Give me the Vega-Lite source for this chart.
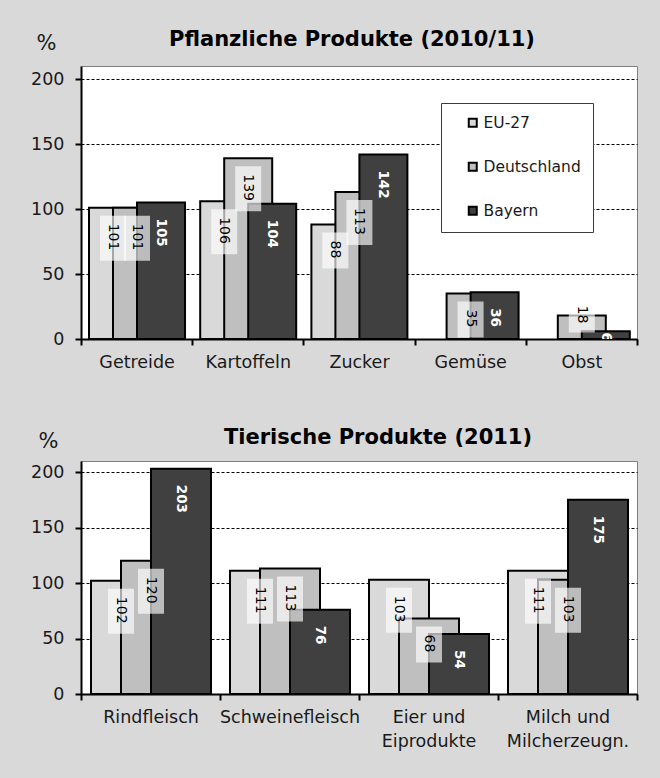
{
  "$schema": "https://vega.github.io/schema/vega-lite/v6.json",
  "background": "#d9d9d9",
  "padding": {"left": 30, "top": 28, "right": 23, "bottom": 38},
  "spacing": 55,
  "resolve": {"scale": {"color": "independent", "xOffset": "independent", "x": "independent", "y": "independent"}},
  "config": {
    "font": "DejaVu Sans",
    "view": {"stroke": "#7f7f7f", "strokeWidth": 1, "fill": "#ffffff"},
    "axis": {"labelFont": "DejaVu Sans", "labelFontSize": 17.5, "labelColor": "#1a1a1a", "domainColor": "#000000", "domainWidth": 2, "tickColor": "#000000", "tickWidth": 2, "tickSize": 6, "titleFont": "DejaVu Sans", "titleFontSize": 21, "titleFontWeight": "normal", "titleColor": "#1a1a1a"},
    "axisX": {"grid": false, "labelAngle": 0, "tickBand": "extent", "labelPadding": 8},
    "axisY": {"grid": true, "gridColor": "#000000", "gridDash": [3, 2], "gridWidth": 1, "labelPadding": 11},
    "title": {"font": "DejaVu Sans", "fontSize": 21, "fontWeight": "bold", "color": "#000000", "anchor": "middle"}
  },
  "vconcat": [
    {
      "width": 556,
      "height": 273,
      "title": {"text": "Pflanzliche Produkte (2010/11)", "dx": -7, "offset": -18},
      "data": {"values": [
        {"cat": "Getreide", "series": "EU-27", "value": 101},
        {"cat": "Kartoffeln", "series": "EU-27", "value": 106},
        {"cat": "Zucker", "series": "EU-27", "value": 88},
        {"cat": "Getreide", "series": "Deutschland", "value": 101},
        {"cat": "Kartoffeln", "series": "Deutschland", "value": 139},
        {"cat": "Zucker", "series": "Deutschland", "value": 113},
        {"cat": "Gemüse", "series": "Deutschland", "value": 35},
        {"cat": "Obst", "series": "Deutschland", "value": 18},
        {"cat": "Getreide", "series": "Bayern", "value": 105},
        {"cat": "Kartoffeln", "series": "Bayern", "value": 104},
        {"cat": "Zucker", "series": "Bayern", "value": 142},
        {"cat": "Gemüse", "series": "Bayern", "value": 36},
        {"cat": "Obst", "series": "Bayern", "value": 6}
      ]},
      "encoding": {
        "x": {"field": "cat", "type": "nominal", "sort": ["Getreide", "Kartoffeln", "Zucker", "Gemüse", "Obst"], "scale": {"paddingInner": 0, "paddingOuter": 0}, "axis": {"title": null}},
        "xOffset": {"field": "series", "type": "nominal", "sort": ["EU-27", "Deutschland", "Bayern"], "scale": {"range": [20, 92], "paddingInner": 0, "paddingOuter": 0}},
        "y": {"field": "value", "type": "quantitative", "scale": {"domain": [0, 210], "nice": false}, "axis": {"values": [0, 50, 100, 150, 200], "title": "%", "titleAngle": 0, "titleAlign": "left", "titleBaseline": "alphabetic", "titleX": -45, "titleY": -17}}
      },
      "layer": [
        {
          "mark": {"type": "bar", "width": 48, "stroke": "#000000", "strokeWidth": 2},
          "encoding": {
            "color": {"field": "series", "type": "nominal", "sort": ["EU-27", "Deutschland", "Bayern"],
              "scale": {"domain": ["EU-27", "Deutschland", "Bayern"], "range": ["#d9d9d9", "#bfbfbf", "#404040"]},
              "legend": {"title": null, "orient": "none", "legendX": 360, "legendY": 37, "direction": "vertical", "fillColor": "#ffffff", "strokeColor": "#3a3a3a", "padding": 12, "symbolOffset": 12, "rowPadding": 26, "labelFont": "DejaVu Sans", "labelFontSize": 15.5, "labelColor": "#1a1a1a", "symbolType": "square", "symbolSize": 64, "symbolStrokeColor": "#000000", "symbolStrokeWidth": 2, "labelOffset": 3}}
          }
        },
        {
          "transform": [{"filter": "datum.series != 'Bayern'"}],
          "mark": {"type": "point", "filled": true, "size": 4, "color": "#ffffff", "opacity": 0.65, "strokeWidth": 0},
          "encoding": {"shape": {"condition": [
            {"test": "datum.value >= 100", "value": "M-13,8L13,8L13,53L-13,53Z"},
            {"test": "datum.value >= 30", "value": "M-13,8L13,8L13,44L-13,44Z"}
          ], "value": "M-13,-19L13,-19L13,17L-13,17Z"}}
        },
        {
          "transform": [{"filter": "datum.series != 'Bayern' && datum.value >= 30"}],
          "mark": {"type": "text", "angle": 90, "align": "left", "baseline": "middle", "yOffset": 16, "font": "DejaVu Sans", "fontSize": 14, "color": "#000000"},
          "encoding": {"text": {"field": "value", "type": "quantitative"}}
        },
        {
          "transform": [{"filter": "datum.series != 'Bayern' && datum.value < 30"}],
          "mark": {"type": "text", "angle": 90, "align": "center", "baseline": "middle", "yOffset": -1, "font": "DejaVu Sans", "fontSize": 14, "color": "#000000"},
          "encoding": {"text": {"field": "value", "type": "quantitative"}}
        },
        {
          "transform": [{"filter": "datum.series == 'Bayern' && datum.value >= 30"}],
          "mark": {"type": "text", "angle": 90, "align": "left", "baseline": "middle", "yOffset": 16, "font": "DejaVu Sans", "fontSize": 13.5, "fontWeight": "bold", "color": "#ffffff"},
          "encoding": {"text": {"field": "value", "type": "quantitative"}}
        },
        {
          "transform": [{"filter": "datum.series == 'Bayern' && datum.value < 30"}],
          "mark": {"type": "text", "angle": 90, "align": "center", "baseline": "middle", "yOffset": 6, "clip": true, "font": "DejaVu Sans", "fontSize": 13.5, "fontWeight": "bold", "color": "#ffffff"},
          "encoding": {"text": {"field": "value", "type": "quantitative"}}
        }
      ]
    },
    {
      "width": 556,
      "height": 233,
      "title": {"text": "Tierische Produkte (2011)", "dx": 19, "offset": -18},
      "data": {"values": [
        {"cat": "Rindfleisch", "series": "EU-27", "value": 102},
        {"cat": "Schweinefleisch", "series": "EU-27", "value": 111},
        {"cat": "Eier und Eiprodukte", "series": "EU-27", "value": 103},
        {"cat": "Milch und Milcherzeugn.", "series": "EU-27", "value": 111},
        {"cat": "Rindfleisch", "series": "Deutschland", "value": 120},
        {"cat": "Schweinefleisch", "series": "Deutschland", "value": 113},
        {"cat": "Eier und Eiprodukte", "series": "Deutschland", "value": 68},
        {"cat": "Milch und Milcherzeugn.", "series": "Deutschland", "value": 103},
        {"cat": "Rindfleisch", "series": "Bayern", "value": 203},
        {"cat": "Schweinefleisch", "series": "Bayern", "value": 76},
        {"cat": "Eier und Eiprodukte", "series": "Bayern", "value": 54},
        {"cat": "Milch und Milcherzeugn.", "series": "Bayern", "value": 175}
      ]},
      "encoding": {
        "x": {"field": "cat", "type": "nominal", "sort": ["Rindfleisch", "Schweinefleisch", "Eier und Eiprodukte", "Milch und Milcherzeugn."], "scale": {"paddingInner": 0, "paddingOuter": 0}, "axis": {"title": null, "labelExpr": "split(replace(datum.label, ' und ', ' und|'), '|')", "labelLineHeight": 24}},
        "xOffset": {"field": "series", "type": "nominal", "sort": ["EU-27", "Deutschland", "Bayern"], "scale": {"range": [25, 115], "paddingInner": 0, "paddingOuter": 0}},
        "y": {"field": "value", "type": "quantitative", "scale": {"domain": [0, 210], "nice": false}, "axis": {"values": [0, 50, 100, 150, 200], "title": "%", "titleAngle": 0, "titleAlign": "left", "titleBaseline": "alphabetic", "titleX": -43, "titleY": -14}}
      },
      "layer": [
        {
          "mark": {"type": "bar", "width": 60, "stroke": "#000000", "strokeWidth": 2},
          "encoding": {
            "color": {"field": "series", "type": "nominal", "sort": ["EU-27", "Deutschland", "Bayern"],
              "scale": {"domain": ["EU-27", "Deutschland", "Bayern"], "range": ["#d9d9d9", "#bfbfbf", "#404040"]},
              "legend": null}
          }
        },
        {
          "transform": [{"filter": "datum.series != 'Bayern'"}],
          "mark": {"type": "point", "filled": true, "size": 4, "color": "#ffffff", "opacity": 0.65, "strokeWidth": 0},
          "encoding": {"shape": {"condition": [
            {"test": "datum.value >= 100", "value": "M-13,8L13,8L13,53L-13,53Z"}
          ], "value": "M-13,8L13,8L13,44L-13,44Z"}}
        },
        {
          "transform": [{"filter": "datum.series != 'Bayern'"}],
          "mark": {"type": "text", "angle": 90, "align": "left", "baseline": "middle", "yOffset": 16, "font": "DejaVu Sans", "fontSize": 14, "color": "#000000"},
          "encoding": {"text": {"field": "value", "type": "quantitative"}}
        },
        {
          "transform": [{"filter": "datum.series == 'Bayern'"}],
          "mark": {"type": "text", "angle": 90, "align": "left", "baseline": "middle", "yOffset": 16, "font": "DejaVu Sans", "fontSize": 13.5, "fontWeight": "bold", "color": "#ffffff"},
          "encoding": {"text": {"field": "value", "type": "quantitative"}}
        }
      ]
    }
  ]
}
